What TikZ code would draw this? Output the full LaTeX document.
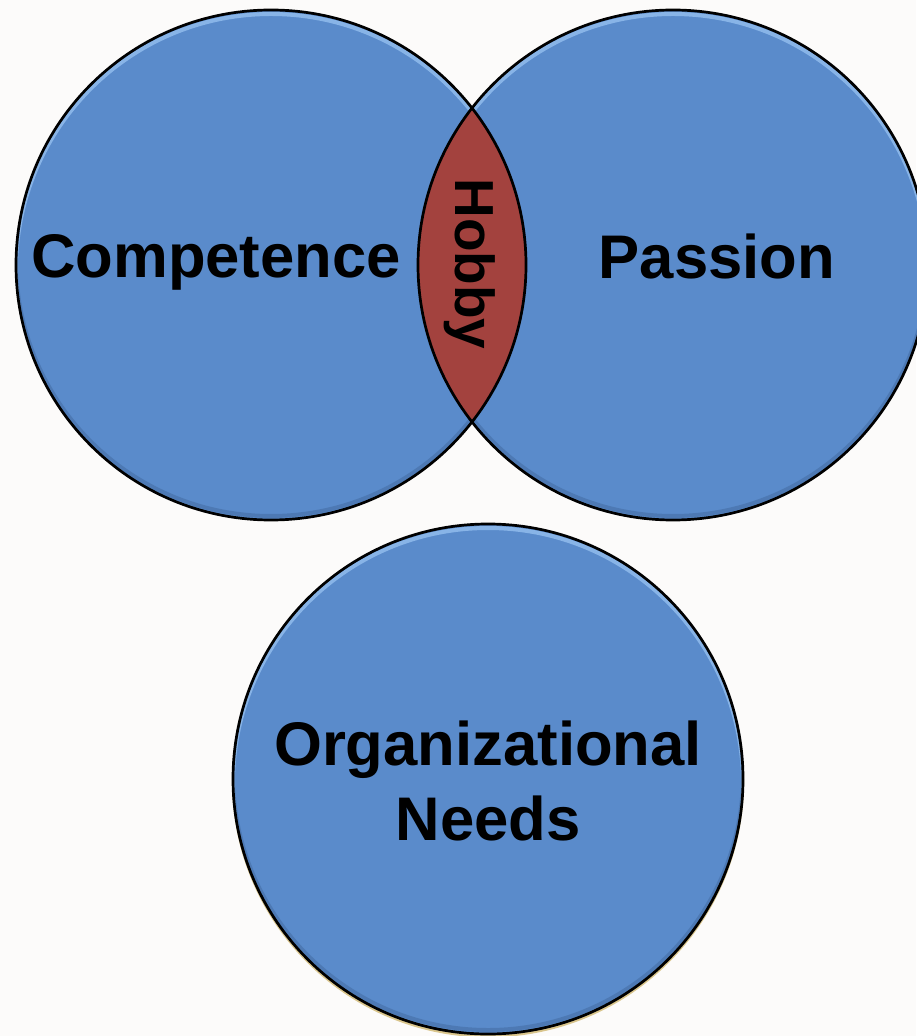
\documentclass[tikz,border=0pt]{standalone}
\usepackage{fontspec}
\setmainfont{Liberation Sans}
\usetikzlibrary{positioning}
\definecolor{bubbleblue}{HTML}{5A8BCB}
\definecolor{glowblue}{HTML}{9CC6F4}
\definecolor{deepblue}{HTML}{41699E}
\definecolor{lensred}{HTML}{A3423E}
\definecolor{paper}{HTML}{FCFBFA}
\definecolor{shadowtan}{HTML}{D9C58C}
\tikzset{
  bubble/.style={fill=bubbleblue},
  rim/.style={draw=black, line width=1.35pt},
  glow/.style={draw=glowblue, line width=2pt, opacity=0.7},
  dusk/.style={draw=deepblue, line width=2pt, opacity=0.5},
  word/.style={font=\fontsize{30.8}{37.5}\selectfont\bfseries, text=black, anchor=base, inner sep=0pt, align=center},
}
\begin{document}
\begin{tikzpicture}[x=0.5pt,y=-0.5pt]
  \fill[paper] (0,0) rectangle (916,1036);
  \useasboundingbox (0,0) rectangle (916,1036);

  % centres of the three circles
  \coordinate (comp) at (271,265);
  \coordinate (pass) at (673,265);
  \coordinate (need) at (488,779);

  % soft shadow under the lower circle
  \fill[shadowtan] ([yshift=-1.2pt]need) circle[radius=256];

  % the circles with a bevel at top and bottom
  \foreach \c in {comp,pass,need}{
    \fill[bubble] (\c) circle[radius=255];
    \begin{scope}
      \clip (\c) circle[radius=255];
      \draw[glow] ([yshift=-2pt]\c) circle[radius=255];
      \draw[dusk] ([yshift=2pt]\c) circle[radius=255];
    \end{scope}
  }

  % the overlap
  \begin{scope}
    \clip (comp) circle[radius=255];
    \fill[lensred] (pass) circle[radius=255];
  \end{scope}

  \foreach \c in {comp,pass,need}
    \draw[rim] (\c) circle[radius=255];

  % labels
  \node[word] (competence) at (216,278) {Competence};
  \node[word] (passion) at (717,279) {Passion};
  \node[word, font=\fontsize{27.5}{30}\selectfont\bfseries, rotate=-90] (hobby) at (455,264) {Hobby};
  \node[word] (needs) at (488,840) {Organizational\\Needs};
\end{tikzpicture}
\end{document}
